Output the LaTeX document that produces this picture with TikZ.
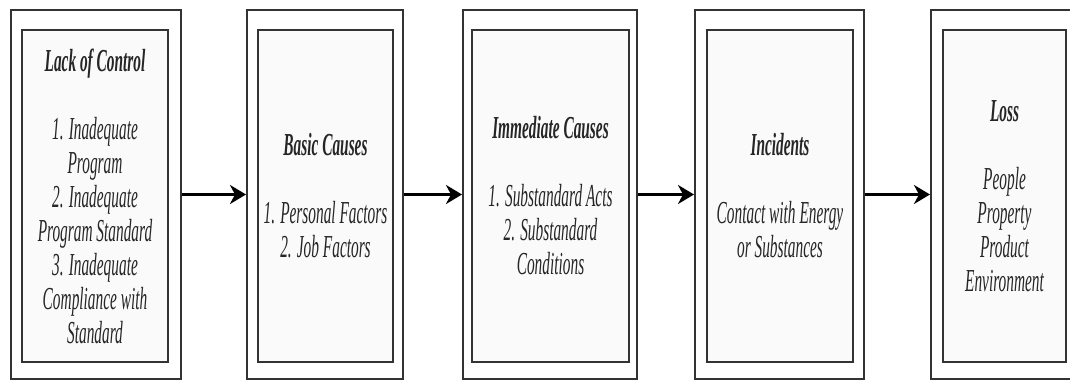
\documentclass[tikz,border=0pt]{standalone}
\usepackage{fontspec}
\setmainfont{Liberation Serif}[FakeStretch=0.48]
\usetikzlibrary{arrows.meta}

\begin{document}
\begin{tikzpicture}[x=1pt,y=1pt]

      \useasboundingbox (0,0) rectangle (1070,381);

      \begin{scope}[every node/.style={rectangle,draw=black!80,line width=2pt,fill=white,minimum height=369pt}]
        \node (o1) at (96,186.5)    [minimum width=170pt] {};
        \node (o2) at (325,186.5)   [minimum width=156pt] {};
        \node (o3) at (550,186.5)   [minimum width=174pt] {};
        \node (o4) at (779.5,186.5) [minimum width=169pt] {};
        \node (o5) at (1004.5,186.5) [minimum width=147pt] {};
      \end{scope}

      \begin{scope}[every node/.style={rectangle,draw=black!80,line width=1.4pt,fill=black!2,
          minimum height=332pt,align=center,text=black!85,
          font=\fontsize{32}{34}\selectfont\itshape}]
        \node (i1) at (95,185)     [minimum width=146pt]
          {\textbf{Lack of Control}\\[34pt]1. Inadequate\\Program\\2. Inadequate\\Program Standard\\3. Inadequate\\Compliance with\\Standard};
        \node (i2) at (325.5,185)  [minimum width=135pt]
          {\textbf{Basic Causes}\\[34pt]1. Personal Factors\\2. Job Factors};
        \node (i3) at (550.5,185)  [minimum width=157pt]
          {\textbf{Immediate Causes}\\[34pt]1. Substandard Acts\\2. Substandard\\Conditions};
        \node (i4) at (780,185)    [minimum width=146pt]
          {\textbf{Incidents}\\[34pt]Contact with Energy\\or Substances};
        \node (i5) at (1004.5,185) [minimum width=123pt]
          {\textbf{Loss}\\[34pt]People\\Property\\Product\\Environment};
      \end{scope}

      \begin{scope}[every edge/.style={draw,line width=3pt,-{Stealth[length=16pt,width=19pt,inset=5pt]}}]
        \path (o1) edge (o2);
        \path (o2) edge (o3);
        \path (o3) edge (o4);
        \path (o4) edge (o5);
      \end{scope}

    \end{tikzpicture}
\end{document}
